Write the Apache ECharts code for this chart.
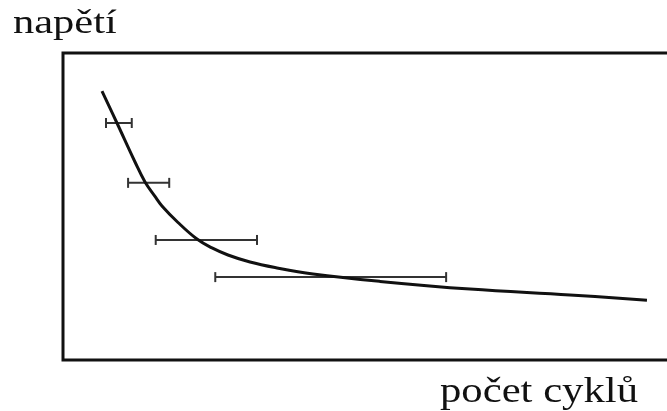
<!DOCTYPE html>
<html>
<head>
<meta charset="utf-8">
<script src="https://cdn.jsdelivr.net/npm/echarts@6/dist/echarts.min.js"></script>
<style>
  html, body { margin: 0; padding: 0; background: #fff; }
  #chart { width: 667px; height: 411px; }
</style>
</head>
<body>
<div id="chart"></div>
<script>
// křivka (počet cyklů, napětí) v libovolných jednotkách 0-100
var curveX = [6.35, 8.79, 11.73, 13.36, 14.98, 16.12, 18.73, 21.82, 24.27, 26.87, 30.46, 34.53, 40.72, 51.63, 66.29, 82.57, 95.11];
var curveY = [87.6, 77.2, 64.5, 58.0, 53.3, 50.2, 44.8, 39.4, 36.5, 34.2, 31.9, 30.1, 28.0, 25.6, 23.1, 21.2, 19.5];

// chybové úsečky
var errLow = [7.0, 10.6, 15.1, 24.8];
var errHigh = [11.2, 17.3, 31.6, 62.4];
var errY = [77.2, 57.7, 39.1, 27.0];

var yLabel = "napětí";
var xLabel = "počet cyklů";

var curveData = curveX.map(function (x, i) { return [x, curveY[i]]; });
var errData = errY.map(function (y, i) { return [errLow[i], errHigh[i], y]; });

var myChart = echarts.init(document.getElementById("chart"));

function renderErr(params, api) {
  var p1 = api.coord([api.value(0), api.value(2)]);
  var p2 = api.coord([api.value(1), api.value(2)]);
  var cap = 5;
  var st = { stroke: "#333", lineWidth: 2 };
  return {
    type: "group",
    children: [
      { type: "line", shape: { x1: p1[0], y1: p1[1], x2: p2[0], y2: p2[1] }, style: st },
      { type: "line", shape: { x1: p1[0], y1: p1[1] - cap, x2: p1[0], y2: p1[1] + cap }, style: st },
      { type: "line", shape: { x1: p2[0], y1: p2[1] - cap, x2: p2[0], y2: p2[1] + cap }, style: st },
    ],
  };
}

myChart.setOption({
  animation: false,
  backgroundColor: "#fff",
  grid: {
    left: 63,
    top: 53,
    width: 614,
    height: 307,
    outerBoundsMode: "none",
    show: true,
    borderColor: "#111",
    borderWidth: 3,
  },
  xAxis: {
    type: "value",
    min: 0,
    max: 100,
    axisLine: { show: false },
    axisTick: { show: false },
    axisLabel: { show: false },
    splitLine: { show: false },
  },
  yAxis: {
    type: "value",
    min: 0,
    max: 100,
    axisLine: { show: false },
    axisTick: { show: false },
    axisLabel: { show: false },
    splitLine: { show: false },
  },
  graphic: [
    {
      type: "text",
      x: 13,
      y: 24,
      scaleX: 1.25,
      style: {
        text: yLabel,
        fontFamily: "Liberation Serif",
        fontSize: 34,
        fill: "#111",
        verticalAlign: "middle",
      },
    },
    {
      type: "text",
      x: 440,
      y: 393,
      scaleX: 1.22,
      style: {
        text: xLabel,
        fontFamily: "Liberation Serif",
        fontSize: 35,
        fill: "#111",
        verticalAlign: "middle",
      },
    },
  ],
  series: [
    {
      type: "line",
      data: curveData,
      smooth: 0.4,
      showSymbol: false,
      lineStyle: { color: "#111", width: 3 },
    },
    {
      type: "custom",
      renderItem: renderErr,
      data: errData,
      encode: { x: [0, 1], y: 2 },
    },
  ],
});
</script>
</body>
</html>
